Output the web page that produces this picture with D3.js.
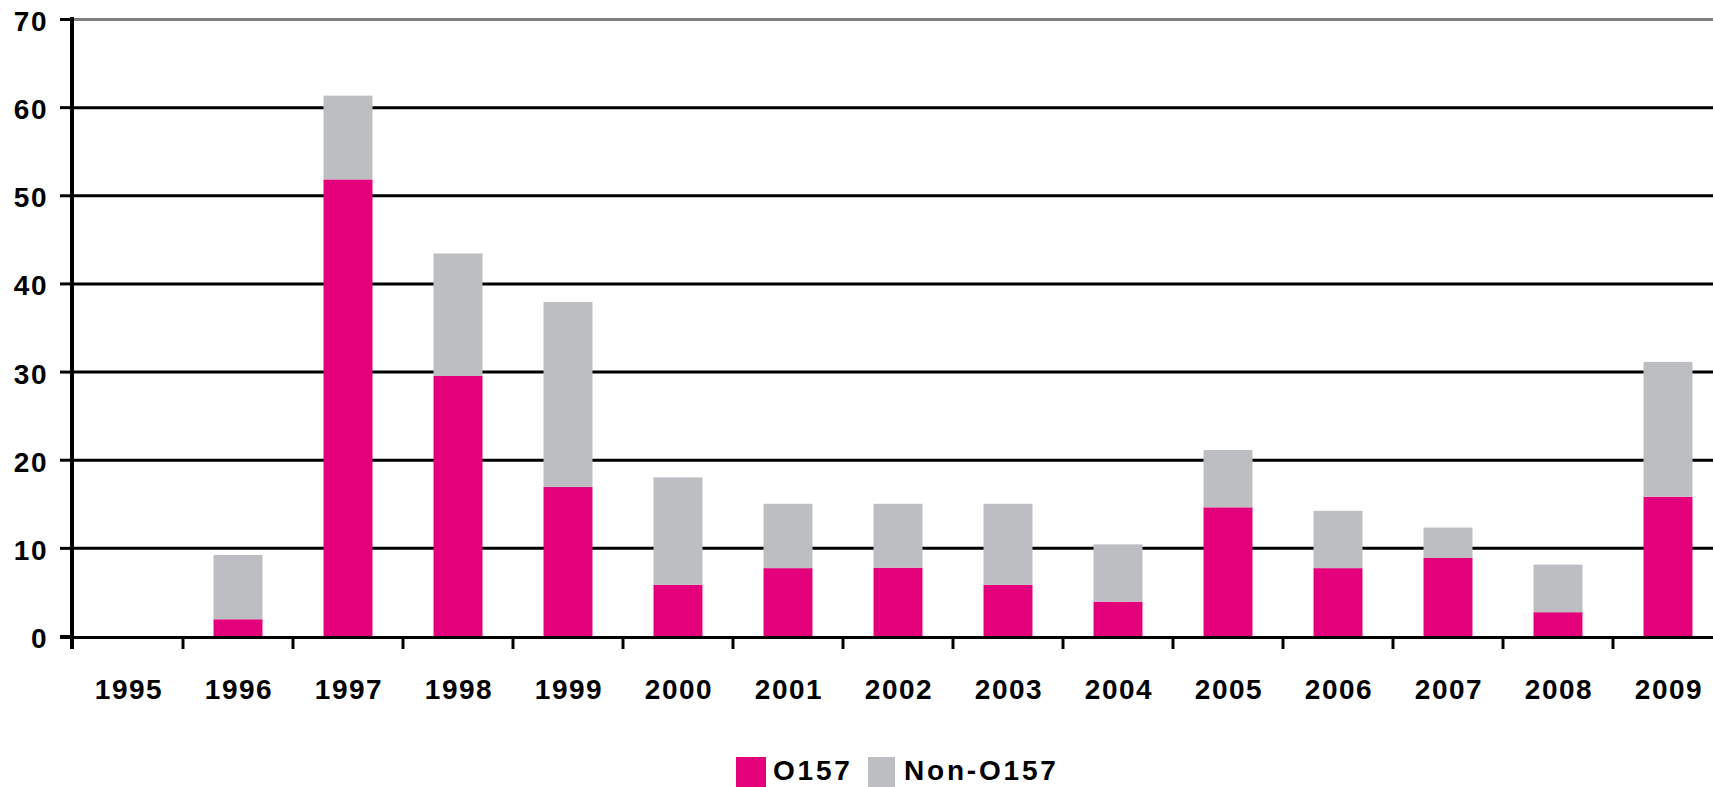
<!DOCTYPE html>
<html>
<head>
<meta charset="utf-8">
<script src="https://cdn.jsdelivr.net/npm/d3@7"></script>
<style>
  body { margin: 0; background: #fff; }
  text { font-family: "Liberation Sans", Arial, sans-serif; font-weight: bold; fill: #000; }
</style>
</head>
<body>
<div id="container"></div>
<script>
/* DATA */
var years = ["1995","1996","1997","1998","1999","2000","2001","2002","2003","2004","2005","2006","2007","2008","2009"];
var o157 =    [0, 1.9, 51.8, 29.5, 16.9, 5.8, 7.7, 7.75, 5.8, 3.9, 14.6, 7.7, 8.85, 2.7, 15.8];
var nonO157 = [0, 7.3,  9.5, 13.9, 21.0, 12.2, 7.3, 7.25, 9.2, 6.5, 6.5, 6.5, 3.45, 5.4, 15.3];
var yTicks = [0, 10, 20, 30, 40, 50, 60, 70];
var seriesNames = ["O157", "Non-O157"];
var colors = ["#e4007a", "#bdbec2"];

var width = 1713,
    height = 787;

var rows = years.map(function(y, i) {
  return { year: y, "O157": o157[i], "Non-O157": nonO157[i] };
});
var stacked = d3.stack().keys(seriesNames)(rows);

/* SCALES */
var xScale = d3.scaleBand()
  .domain(years)
  .range([73, 1723])
  .paddingInner(0.555)
  .paddingOuter(0.2775);

var yScale = d3.scaleLinear()
  .domain([0, 70])
  .range([636, 19]);

var step = xScale.step();

/* HTML ELEMENTS */
var svg = d3.select('#container').append('svg')
  .attr('width', width)
  .attr('height', height);

// gridlines
svg.selectAll('line.grid').data(yTicks.filter(function(d){ return d > 0; }))
  .enter().append('line')
    .attr('class', 'grid')
    .attr('x1', 74).attr('x2', width)
    .attr('y1', function(d){ return yScale(d) + 0.5; })
    .attr('y2', function(d){ return yScale(d) + 0.5; })
    .attr('stroke', function(d){ return d === 70 ? '#808080' : '#000'; })
    .attr('stroke-width', 3);

// y ticks
svg.selectAll('line.ytick').data(yTicks)
  .enter().append('line')
    .attr('x1', 60).attr('x2', 72)
    .attr('y1', function(d){ return yScale(d) + 0.5; })
    .attr('y2', function(d){ return yScale(d) + 0.5; })
    .attr('stroke', '#000')
    .attr('stroke-width', 3);

// bars
svg.selectAll('g.series').data(stacked)
  .enter().append('g')
    .attr('fill', function(d, i){ return colors[i]; })
  .selectAll('rect').data(function(d){ return d; })
  .enter().append('rect')
    .attr('x', function(d){ return xScale(d.data.year); })
    .attr('width', xScale.bandwidth())
    .attr('y', function(d){ return yScale(d[1]); })
    .attr('height', function(d){ return yScale(d[0]) - yScale(d[1]); });

// x axis line
svg.append('line')
  .attr('x1', 60).attr('x2', width)
  .attr('y1', 637.5).attr('y2', 637.5)
  .attr('stroke', '#000').attr('stroke-width', 3);

// x ticks at band boundaries
svg.selectAll('line.xtick').data(years.slice(1))
  .enter().append('line')
    .attr('x1', function(d){ return xScale(d) + xScale.bandwidth() / 2 - step / 2; })
    .attr('x2', function(d){ return xScale(d) + xScale.bandwidth() / 2 - step / 2; })
    .attr('y1', 637).attr('y2', 649)
    .attr('stroke', '#000').attr('stroke-width', 3);

// y axis line
svg.append('line')
  .attr('x1', 72).attr('x2', 72)
  .attr('y1', 17).attr('y2', 649)
  .attr('stroke', '#000').attr('stroke-width', 4);

// y labels
svg.selectAll('text.ylab').data(yTicks)
  .enter().append('text')
    .attr('x', 48)
    .attr('y', function(d){ return yScale(d) + 12; })
    .attr('text-anchor', 'end')
    .style('font-size', '28px')
    .style('letter-spacing', '1.5px')
    .text(function(d){ return d; });

// x labels
svg.selectAll('text.xlab').data(years)
  .enter().append('text')
    .attr('x', function(d){ return xScale(d) + xScale.bandwidth() / 2 + 1; })
    .attr('y', 699)
    .attr('text-anchor', 'middle')
    .style('font-size', '28px')
    .style('letter-spacing', '1.5px')
    .text(function(d){ return d; });

// legend
var legendX = [736, 868];
var legendW = [30, 27];
var legendTextX = [773, 904];
var legend = svg.selectAll('g.legend').data(seriesNames)
  .enter().append('g');
legend.append('rect')
  .attr('x', function(d, i){ return legendX[i]; })
  .attr('y', 757)
  .attr('width', function(d, i){ return legendW[i]; })
  .attr('height', 30)
  .attr('fill', function(d, i){ return colors[i]; });
legend.append('text')
  .attr('x', function(d, i){ return legendTextX[i]; })
  .attr('y', 780)
  .style('font-size', '28px')
  .style('letter-spacing', '2.8px')
  .text(function(d){ return d; });
</script>
</body>
</html>
